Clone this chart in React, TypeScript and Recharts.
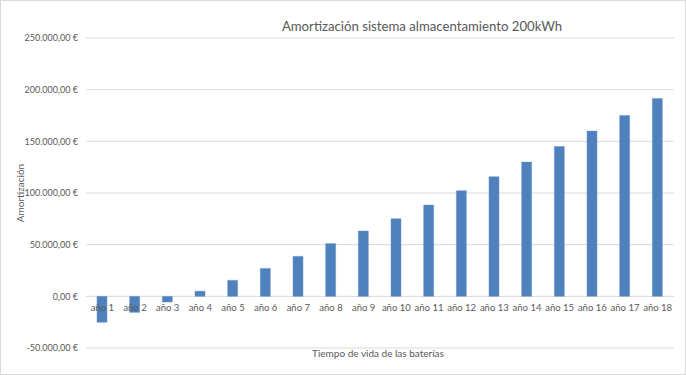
import { BarChart, Bar, XAxis, YAxis, CartesianGrid } from "recharts";

const years = [
    "año 1", "año 2", "año 3", "año 4", "año 5", "año 6", "año 7", "año 8", "año 9",
    "año 10", "año 11", "año 12", "año 13", "año 14", "año 15", "año 16", "año 17", "año 18",
];
const amortizacion = [
    -25100, -15500, -5500, 5000, 15500, 27000, 38700, 51000, 63200,
    75100, 88300, 102200, 115700, 129900, 145000, 159900, 175000, 191500,
];
const yTicks = [-50000, 0, 50000, 100000, 150000, 200000, 250000];

const data = years.map((year, i) => ({ year, value: amortizacion[i] }));

const W = 686;
const H = 375;
const TOP = 38;
const BOTTOM = 27;
const yMin = yTicks[0];
const yMax = yTicks[yTicks.length - 1];
// shift x labels from the bottom of the plot up to the zero line
const plotH = H - TOP - BOTTOM;
const zeroShift = ((0 - yMin) / (yMax - yMin)) * plotH;

const font = "Lato, 'Open Sans', sans-serif";
const grey = "#595959";

const formatEuro = (val: number) =>
    val.toLocaleString("de-DE", { minimumFractionDigits: 2, maximumFractionDigits: 2 }) + " €";

const YearTick = ({ x, y, payload }: any) => (
    <text x={x} y={y - zeroShift} dy="0.71em" textAnchor="middle" fontSize={9.5} fill={grey} fontFamily={font}>
        {payload.value}
    </text>
);

export default function App() {
    return (
        <div style={{ position: "absolute", left: 0, top: 0, width: W, height: H, background: "#fff", fontFamily: font }}>
            <BarChart width={W} height={H} data={data} margin={{ top: TOP, right: 12, left: 0, bottom: 0 }}>
                <CartesianGrid vertical={false} stroke="#d9d9d9" />
                <XAxis dataKey="year" height={BOTTOM} tickLine={false} axisLine={false} interval={0} tick={<YearTick />} />
                <YAxis
                    width={86}
                    domain={[yMin, yMax]}
                    ticks={yTicks}
                    tickFormatter={formatEuro}
                    tickLine={false}
                    axisLine={false}
                    tick={{ fontSize: 9, fill: grey, fontFamily: font }}
                />
                <Bar dataKey="value" fill="#4f81bd" stroke="#6b95c9" strokeWidth={0.5} barSize={10} isAnimationActive={false} />
            </BarChart>
            <div style={{ position: "absolute", left: 0, top: 0, width: W, height: H, boxSizing: "border-box", border: "1px solid #d9d9d9", pointerEvents: "none" }} />
            <div style={{ position: "absolute", left: 222, width: 400, top: 18, textAlign: "center", fontSize: 13.2, color: grey }}>
                Amortización sistema almacentamiento 200kWh
            </div>
            <div style={{ position: "absolute", left: 278, width: 200, top: 347, textAlign: "center", fontSize: 10, color: grey }}>
                Tiempo de vida de las baterías
            </div>
            <div style={{ position: "absolute", left: 20, top: 193, transform: "translate(-50%, -50%) rotate(-90deg)", fontSize: 10, color: grey, whiteSpace: "nowrap" }}>
                Amortización
            </div>
        </div>
    );
}
